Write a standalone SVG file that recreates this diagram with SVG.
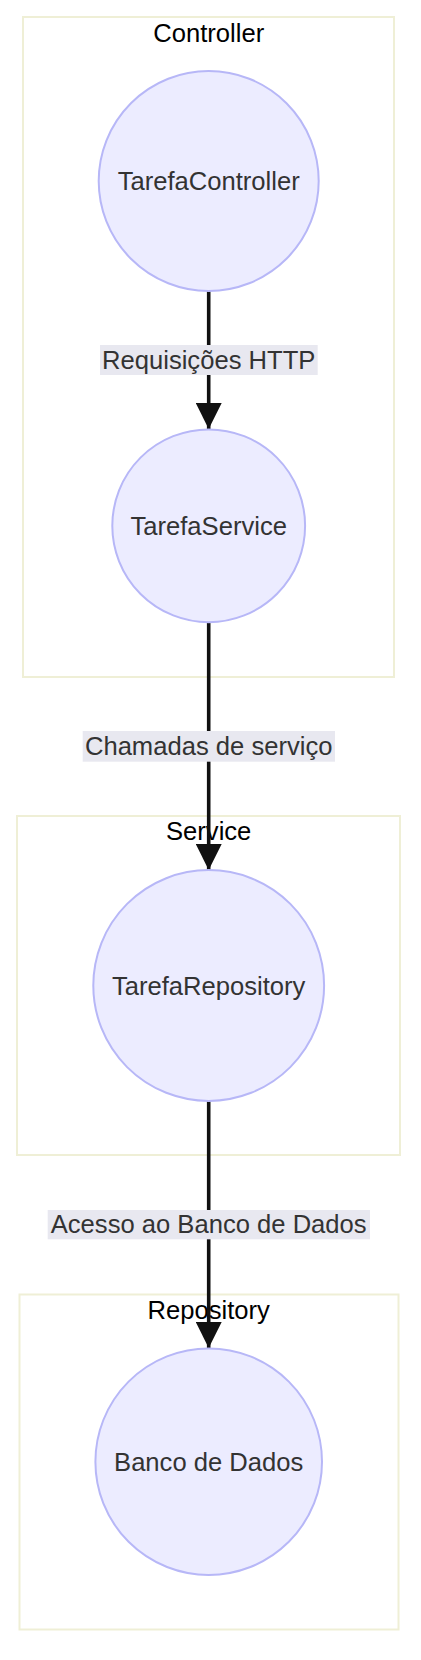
<svg xmlns="http://www.w3.org/2000/svg" width="421" height="1660" viewBox="0 0 421 1660">
<style>
.cluster{fill:#ffffff;stroke:#efefd6;stroke-width:2}
.ctitle{font-family:"Liberation Sans",Arial,sans-serif;font-size:25.6px;fill:#000;text-anchor:middle}
.node circle{fill:#ECECFF;stroke:#b7b7f7;stroke-width:2}
.ntext{font-family:"Liberation Sans",Arial,sans-serif;font-size:25.6px;fill:#333;text-anchor:middle}
.edge{stroke:#111;stroke-width:3.6;fill:none}
.lbg{fill:#e8e8f0}
.ltext{font-family:"Liberation Sans",Arial,sans-serif;font-size:25.6px;fill:#333;text-anchor:middle}
</style>
<defs>
<marker id="arr" markerUnits="userSpaceOnUse" markerWidth="26" markerHeight="26" refX="26" refY="13" orient="auto">
<path d="M0,0 L26,13 L0,26 Z" fill="#111"/>
</marker>
</defs>
<g id="cluster-Controller"><rect class="cluster" x="23" y="17" width="371" height="660"/><text class="ctitle" x="208.7" y="41.5">Controller</text></g>
<g id="cluster-Service"><rect class="cluster" x="17" y="816" width="383" height="339"/><text class="ctitle" x="208.7" y="840">Service</text></g>
<g id="cluster-Repository"><rect class="cluster" x="19.5" y="1294.5" width="379" height="335"/><text class="ctitle" x="208.7" y="1319">Repository</text></g>
<g id="edges">
<line class="edge" x1="208.7" y1="291" x2="208.7" y2="429" marker-end="url(#arr)"/>
<line class="edge" x1="208.7" y1="622" x2="208.7" y2="870" marker-end="url(#arr)"/>
<line class="edge" x1="208.7" y1="1101" x2="208.7" y2="1348" marker-end="url(#arr)"/>
<rect class="lbg" x="100" y="345" width="217.7" height="30"/>
<text class="ltext" x="208.7" y="368.5">Requisições HTTP</text>
<rect class="lbg" x="82.7" y="731" width="252.3" height="30.7"/>
<text class="ltext" x="208.7" y="754.5">Chamadas de serviço</text>
<rect class="lbg" x="47.7" y="1210" width="322.3" height="29.3"/>
<text class="ltext" x="208.7" y="1233">Acesso ao Banco de Dados</text>
</g>
<g id="TarefaController" class="node"><circle cx="208.7" cy="181" r="110"/><text class="ntext" x="208.7" y="190">TarefaController</text></g>
<g id="TarefaService" class="node"><circle cx="208.7" cy="525.8" r="96.4"/><text class="ntext" x="208.7" y="535">TarefaService</text></g>
<g id="TarefaRepository" class="node"><circle cx="208.7" cy="985.5" r="115.4"/><text class="ntext" x="208.7" y="995">TarefaRepository</text></g>
<g id="BancoDeDados" class="node"><circle cx="208.7" cy="1461.7" r="113.3"/><text class="ntext" x="208.7" y="1470.5">Banco de Dados</text></g>
</svg>
